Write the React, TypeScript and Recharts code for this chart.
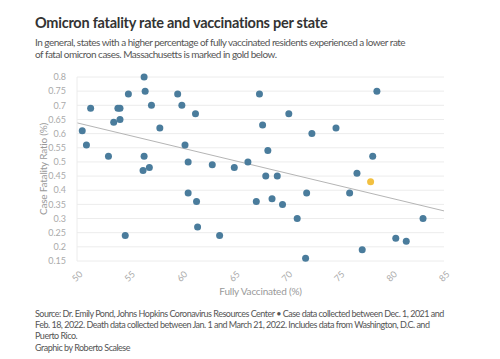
import React from 'react';
import {
  ScatterChart,
  Scatter,
  XAxis,
  YAxis,
  CartesianGrid,
  ReferenceLine,
} from 'recharts';

// Fully vaccinated (%) vs case fatality ratio (%), one entry per state
const vaccinated = [
  50.5, 50.9, 51.3, 53.0, 53.5, 53.9, 54.1, 54.1, 54.9, 54.6,
  56.4, 56.5, 57.1, 56.4, 56.3, 56.9, 57.9, 59.6, 60.0, 60.3,
  60.6, 60.6, 61.3, 61.4, 61.5, 62.9, 63.6, 65.0, 66.3, 67.4,
  67.7, 68.2, 68.0, 69.1, 67.1, 68.6, 69.6, 70.2, 71.0, 71.9,
  71.8, 72.4, 74.7, 78.6, 78.2, 76.7, 76.0, 77.2, 80.4, 81.4,
  83.0,
];
const fatality = [
  0.61, 0.56, 0.69, 0.52, 0.64, 0.69, 0.69, 0.65, 0.74, 0.24,
  0.8, 0.75, 0.7, 0.52, 0.47, 0.48, 0.62, 0.74, 0.7, 0.56,
  0.5, 0.39, 0.67, 0.36, 0.27, 0.49, 0.24, 0.48, 0.5, 0.74,
  0.63, 0.54, 0.45, 0.45, 0.36, 0.37, 0.35, 0.67, 0.3, 0.39,
  0.16, 0.6, 0.62, 0.75, 0.52, 0.46, 0.39, 0.19, 0.23, 0.22,
  0.3,
];
const massachusetts = { x: 78.0, y: 0.43 };

// trend line endpoints
const trendStart = { x: 50, y: 0.638 };
const trendEnd = { x: 85, y: 0.327 };

const xTicks = [50, 55, 60, 65, 70, 75, 80, 85];
const yTicks = [0.15, 0.2, 0.25, 0.3, 0.35, 0.4, 0.45, 0.5, 0.55, 0.6, 0.65, 0.7, 0.75, 0.8];

const states = vaccinated.map((x, i) => ({ x, y: fatality[i] }));

const FONT = 'Lato, "Open Sans", sans-serif';

const XTick = (props: any) => {
  const { x, y, payload } = props;
  return (
    <text
      x={x}
      y={y + 7}
      transform={`rotate(-45, ${x}, ${y + 7})`}
      textAnchor="middle"
      dominantBaseline="central"
      fontSize={9}
      fill="#aaa"
      fontFamily={FONT}
    >
      {payload.value}
    </text>
  );
};

export default function App() {
  return (
    <div
      style={{
        position: 'relative',
        width: 500,
        height: 359,
        margin: '-8px 0 0 -8px',
        background: '#fff',
        fontFamily: FONT,
      }}
    >
      <div
        style={{
          position: 'absolute',
          left: 35,
          top: 14,
          fontSize: 14.5,
          fontWeight: 700,
          letterSpacing: -0.25,
          color: '#333',
          whiteSpace: 'nowrap',
        }}
      >
        Omicron fatality rate and vaccinations per state
      </div>
      <div
        style={{
          position: 'absolute',
          left: 35,
          top: 37,
          fontSize: 10,
          lineHeight: '11.5px',
          letterSpacing: -0.5,
          color: '#555',
          whiteSpace: 'nowrap',
        }}
      >
        In general, states with a higher percentage of fully vaccinated residents experienced a lower rate
        <br />
        of fatal omicron cases. Massachusetts is marked in gold below.
      </div>

      <div style={{ position: 'absolute', left: 0, top: 60 }}>
        <ScatterChart
          width={500}
          height={250}
          margin={{ top: 17, right: 56, bottom: 0, left: 30 }}
        >
          <CartesianGrid vertical={false} stroke="#ececec" />
          <XAxis
            type="number"
            dataKey="x"
            domain={[50, 85]}
            ticks={xTicks}
            height={49}
            tick={<XTick />}
            tickLine={false}
            axisLine={false}
            label={{
              value: 'Fully Vaccinated (%)',
              position: 'insideBottom',
              offset: 15,
              fontSize: 10,
              letterSpacing: -0.2,
              fill: '#999',
              fontFamily: FONT,
            }}
          />
          <YAxis
            type="number"
            dataKey="y"
            domain={[0.15, 0.8]}
            ticks={yTicks}
            width={47}
            interval={0}
            tick={{ fontSize: 9, fill: '#aaa', fontFamily: FONT }}
            tickLine={false}
            axisLine={{ stroke: '#ececec' }}
            tickMargin={5}
            label={{
              value: 'Case Fatality Ratio (%)',
              angle: -90,
              position: 'insideLeft',
              offset: 13,
              style: { textAnchor: 'middle' },
              fontSize: 10,
              letterSpacing: -0.2,
              fill: '#999',
              fontFamily: FONT,
            }}
          />
          <ReferenceLine
            segment={[trendStart, trendEnd]}
            stroke="#b5b5b5"
            strokeWidth={1}
            ifOverflow="extendDomain"
          />
          <Scatter data={states} fill="#4a7c9c" isAnimationActive={false} shape={(p: any) => <circle cx={p.cx} cy={p.cy} r={3.5} fill="#4a7c9c" />} />
          <Scatter data={[massachusetts]} fill="#f2c040" isAnimationActive={false} shape={(p: any) => <circle cx={p.cx} cy={p.cy} r={3.5} fill="#f2c040" />} />
        </ScatterChart>
      </div>

      <div
        style={{
          position: 'absolute',
          left: 35,
          top: 308,
          fontSize: 9,
          lineHeight: '11.2px',
          letterSpacing: -0.5,
          color: '#555',
          whiteSpace: 'nowrap',
        }}
      >
        Source: Dr. Emily Pond, Johns Hopkins Coronavirus Resources Center • Case data collected between Dec. 1, 2021 and
        <br />
        Feb. 18, 2022. Death data collected between Jan. 1 and March 21, 2022. Includes data from Washington, D.C. and
        <br />
        Puerto Rico.
        <br />
        Graphic by Roberto Scalese
      </div>
    </div>
  );
}
